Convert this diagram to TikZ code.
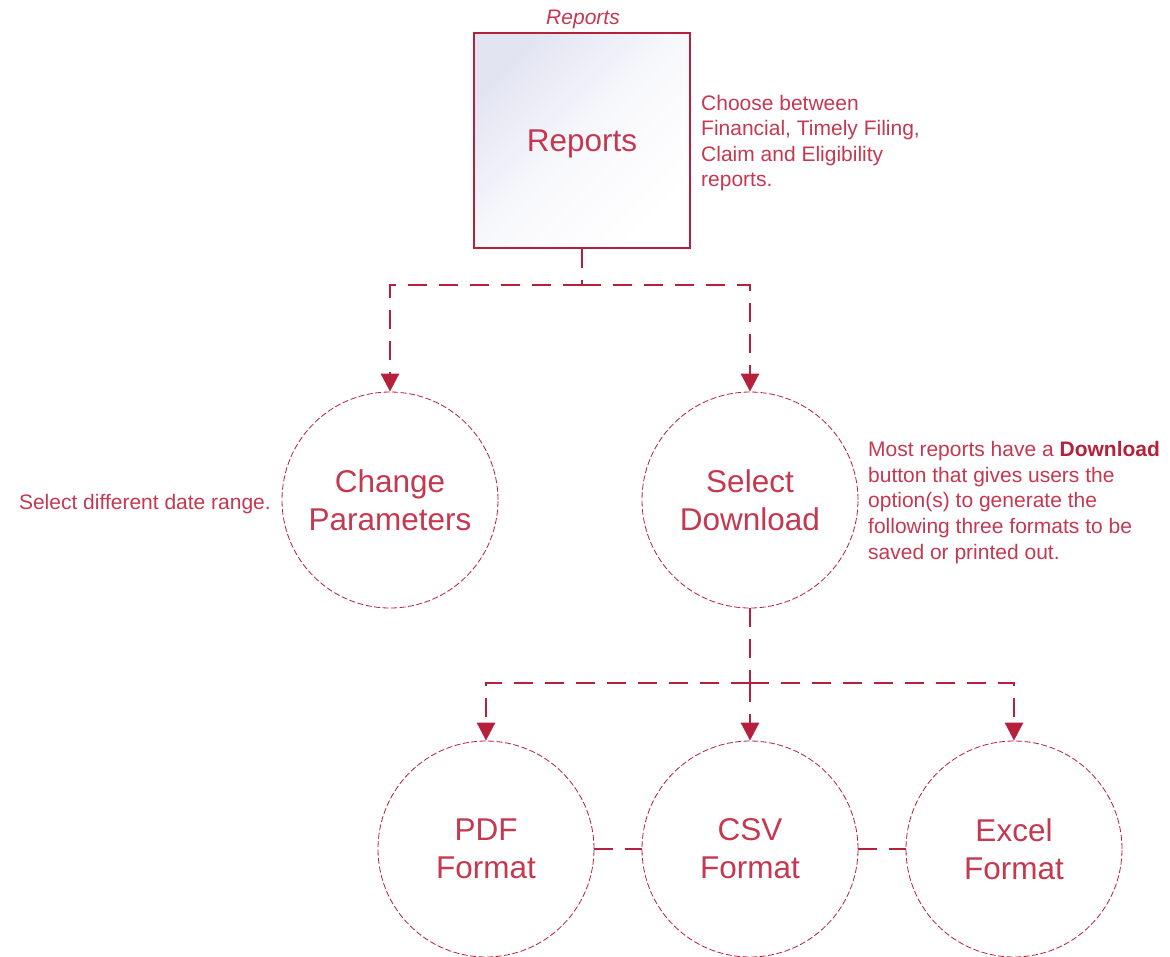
\documentclass[tikz,border=0pt]{standalone}
\usepackage{fontspec}
\setmainfont{Liberation Sans}
\usetikzlibrary{arrows.meta}
\definecolor{crim}{RGB}{181,32,60}
\definecolor{txt}{RGB}{196,56,80}
\definecolor{lav}{RGB}{226,228,242}
\tikzset{
  conn/.style={draw=crim, line width=2.8pt, dash pattern=on 19pt off 12pt},
  arr/.style={conn, -{Triangle[length=18pt,width=18pt]}},
  bubble/.style={circle, draw=crim, line width=0.8pt, dash pattern=on 6pt off 2.5pt, minimum size=216pt, inner sep=0pt, align=center, text=txt, font=\fontsize{31.5}{38}\selectfont},
  desc/.style={text=txt, align=left, inner sep=0pt, font=\fontsize{21}{25.6}\selectfont},
}
\begin{document}
\begin{tikzpicture}[x=1pt,y=-1pt]
\useasboundingbox (0,0) rectangle (1170,956);
\node[text=txt, font=\fontsize{21}{24}\selectfont\itshape] (replab) at (583,19) {Reports};
\node[draw=crim, line width=2pt, minimum width=216pt, minimum height=215pt, inner sep=0pt,
  top color=lav, bottom color=white, middle color=white!75!lav, shading angle=45,
  text height=22pt, text depth=1pt,
  text=txt, font=\fontsize{31.5}{38}\selectfont] (rep) at (582,140.5) {Reports};
\node[desc, anchor=west] (repdesc) at (701,143) {Choose between\\Financial, Timely Filing,\\Claim and Eligibility\\reports.};
\node[bubble] (cp) at (390,500) {Change\\Parameters};
\node[bubble] (sd) at (750,500) {Select\\Download};
\node[desc, anchor=east] (cpdesc) at (271,504) {Select different date range.};
\node[desc, anchor=west] (sddesc) at (868,502.5) {Most reports have a {\color{crim}\bfseries Download}\\button that gives users the\\option(s) to generate the\\following three formats to be\\saved or printed out.};
\node[bubble] (pdf) at (486,849) {PDF\\Format};
\node[bubble] (csv) at (750,849) {CSV\\Format};
\node[bubble] (xls) at (1014,849) {Excel\\Format};
\coordinate (j1) at (582,285);
\coordinate (j2) at (750,683);
\draw[conn] (rep.south) -- (j1);
\draw[arr] (j1) -| (cp.north);
\draw[arr] (j1) -| (sd.north);
\draw[conn] (sd.south) -- (j2);
\draw[arr] (j2) -| (pdf.north);
\draw[arr] (j2) -- (csv.north);
\draw[arr] (j2) -| (xls.north);
\draw[conn] (pdf.east) -- (csv.west);
\draw[conn] (csv.east) -- (xls.west);
\end{tikzpicture}
\end{document}
